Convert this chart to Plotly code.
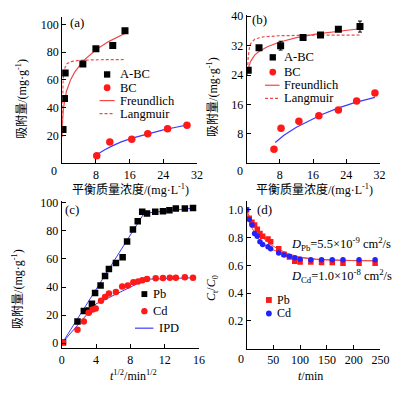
import plotly.graph_objects as go

W, H = 405, 395
SERIF = "'Liberation Serif', 'Noto Sans CJK SC', serif"

# ---------------- data ----------------
# (a) Pb isotherm
a_abc_x = [0.2, 0.55, 0.7, 4.9, 8.0, 12.0, 14.9]
a_abc_y = [24.2, 46.6, 65.0, 71.4, 82.4, 84.8, 95.4]
a_bc_x = [8.2, 11.3, 16.5, 20.3, 25.0, 29.6]
a_bc_y = [5.4, 15.3, 17.2, 21.2, 24.7, 27.3]
a_fr_x = [0.01, 0.03, 0.1, 0.3, 0.6, 1, 2, 3, 5, 8, 11, 15.2]
a_fr_y = [18.8, 23.9, 31.2, 39.7, 46.2, 51.7, 60.2, 65.8, 73.7, 81.7, 87.6, 94.0]
a_la_x = [0.02, 0.05, 0.1, 0.2, 0.4, 0.7, 1, 2, 4, 8, 14.7]
a_la_y = [21.4, 37.5, 50.0, 60.0, 66.7, 70.0, 71.4, 73.2, 74.1, 74.5, 74.7]
a_bcfit_x = [7.9, 10, 12, 14, 16.6, 20, 24, 27, 29.7]
a_bcfit_y = [5.5, 9.5, 12.6, 15.3, 18.0, 21.0, 24.0, 25.9, 27.6]

# (b) Cd isotherm
b_abc_x = [0.4, 3.0, 8.2, 13.6, 17.8, 22.1, 27.3]
b_abc_y = [25.3, 31.4, 32.0, 34.2, 34.9, 36.5, 37.2]
b_abc_err = [0.5, 0.6, 1.2, 0.6, 0.5, 0.6, 1.5]
b_bc_x = [6.6, 8.3, 12.6, 17.4, 22.1, 26.5, 30.9]
b_bc_y = [3.8, 9.5, 11.4, 12.9, 14.5, 16.9, 19.1]
b_fr_x = [0.2, 0.4, 1, 2, 3, 5, 8, 12, 17, 22, 27.3]
b_fr_y = [24.4, 25.8, 27.8, 29.5, 30.4, 31.7, 33.0, 34.2, 35.2, 35.9, 36.6]
b_la_x = [0.2, 0.4, 0.7, 1, 2, 4, 8, 15, 27.3]
b_la_y = [24.0, 29.0, 31.5, 32.6, 33.8, 34.4, 34.7, 34.85, 34.9]
b_bcfit_x = [6.9, 9, 12, 15, 18, 22, 26, 30.9]
b_bcfit_y = [5.6, 7.6, 9.8, 11.6, 13.2, 15.0, 16.5, 17.9]

# (c) kinetics vs t^1/2
c_pb_x = [0.15, 1.84, 2.58, 3.14, 3.52, 3.89, 4.53, 5.05, 5.5, 6.32, 7.1, 7.62,
          8.3, 8.86, 9.38, 9.94, 10.9, 11.8, 12.55, 13.3, 14.35, 15.3]
c_pb_y = [0.7, 15.4, 22.9, 23.3, 28.2, 35.7, 41.1, 47.9, 52.8, 57.2, 61.2, 72.4,
          81.0, 86.9, 93.6, 92.5, 93.6, 94.1, 94.8, 96.0, 96.0, 96.4]
c_cd_x = [0.15, 1.84, 2.58, 3.14, 3.6, 3.96, 4.58, 5.05, 5.5, 6.32, 7.05, 7.7,
          8.35, 8.9, 9.4, 9.94, 10.95, 11.8, 12.6, 13.3, 14.35, 15.3]
c_cd_y = [0.7, 9.5, 15.4, 21.7, 24.0, 24.7, 30.3, 32.9, 35.5, 36.4, 40.4, 41.1,
          43.4, 43.9, 44.8, 45.8, 46.2, 46.4, 46.7, 46.7, 47.0, 46.7]
c_ipd_pb_x = [0.1, 9.6, 15.4]
c_ipd_pb_y = [0.5, 92.6, 96.3]
c_ipd_cd_x = [0.1, 4.0, 9.9, 15.4]
c_ipd_cd_y = [0.5, 28.0, 45.6, 46.6]

# (d) C/C0 vs t
d_t = [0, 5, 10, 15, 20, 25, 30, 40, 45, 60, 70, 80, 90, 100, 120, 140, 160, 180, 210, 240]
d_pb = [1.0, 0.94, 0.91, 0.89, 0.86, 0.83, 0.81, 0.79, 0.77, 0.72, 0.68, 0.66, 0.63,
        0.625, 0.625, 0.62, 0.62, 0.615, 0.615, 0.615]
d_cd = [1.0, 0.93, 0.89, 0.83, 0.81, 0.77, 0.75, 0.735, 0.72, 0.69, 0.675, 0.665, 0.655,
        0.645, 0.64, 0.64, 0.64, 0.64, 0.64, 0.64]
d_fit_t = [0, 5, 10, 20, 30, 45, 60, 80, 100, 130, 160, 200, 240]
d_fit_pb = [1.0, 0.95, 0.91, 0.85, 0.80, 0.75, 0.715, 0.68, 0.66, 0.645, 0.638, 0.634, 0.633]
d_fit_cd = [1.0, 0.92, 0.87, 0.80, 0.76, 0.72, 0.695, 0.67, 0.655, 0.643, 0.637, 0.634, 0.633]

# tick labels
a_xt = [8, 16, 24, 32]; a_yt = [20, 40, 60, 80, 100]
b_xt = [8, 16, 24, 32]; b_yt = [8, 16, 24, 32, 40]
c_xt = [0, 4, 8, 12, 16]; c_yt = [0, 20, 40, 60, 80, 100]
d_xt = [50, 100, 150, 200, 250]; d_yt = [0.2, 0.4, 0.6, 0.8, 1.0]
d_ytext = ["0.2", "0.4", "0.6", "0.8", "1.0"]

RED = "#ff1a1a"
BLUE = "#3b3bff"
FITRED = "#f04848"

def px(x):
    return x / W

def py(y):
    return 1 - y / H

fig = go.Figure()

def sc(x, y, ax, **kw):
    fig.add_trace(go.Scatter(x=x, y=y, xaxis="x" + ax, yaxis="y" + ax,
                             showlegend=False, hoverinfo="skip", **kw))

# (a)
sc(a_fr_x, a_fr_y, "", mode="lines", line=dict(color=FITRED, width=1.2))
sc(a_la_x, a_la_y, "", mode="lines", line=dict(color=FITRED, width=1.2, dash="3px,2px"))
sc(a_bcfit_x, a_bcfit_y, "", mode="lines", line=dict(color=BLUE, width=1.2))
sc(a_abc_x, a_abc_y, "", mode="markers", marker=dict(symbol="square", size=7, color="black"))
sc(a_bc_x, a_bc_y, "", mode="markers", marker=dict(symbol="circle", size=7.5, color=RED))
# (b)
sc(b_fr_x, b_fr_y, "2", mode="lines", line=dict(color=FITRED, width=1.2))
sc(b_la_x, b_la_y, "2", mode="lines", line=dict(color=FITRED, width=1.2, dash="3px,2px"))
sc(b_bcfit_x, b_bcfit_y, "2", mode="lines", line=dict(color=BLUE, width=1.2))
sc(b_abc_x, b_abc_y, "2", mode="markers", marker=dict(symbol="square", size=7, color="black"),
   error_y=dict(type="data", array=b_abc_err, color="black", thickness=1, width=2))
sc(b_bc_x, b_bc_y, "2", mode="markers", marker=dict(symbol="circle", size=7.5, color=RED))
# (c)
sc(c_ipd_pb_x, c_ipd_pb_y, "3", mode="lines", line=dict(color=BLUE, width=1))
sc(c_ipd_cd_x, c_ipd_cd_y, "3", mode="lines", line=dict(color=BLUE, width=1))
sc(c_pb_x, c_pb_y, "3", mode="markers", marker=dict(symbol="square", size=6.5, color="black"))
sc(c_cd_x, c_cd_y, "3", mode="markers", marker=dict(symbol="circle", size=6.5, color=RED))
# (d)
sc(d_fit_t, d_fit_pb, "4", mode="lines", line=dict(color=FITRED, width=1))
sc(d_fit_t, d_fit_cd, "4", mode="lines", line=dict(color=FITRED, width=1))
sc(d_t, d_pb, "4", mode="markers", marker=dict(symbol="square", size=5.5, color=RED))
sc(d_t, d_cd, "4", mode="markers", marker=dict(symbol="circle", size=5.5, color="#2222ff"))

def axis(dom, rng, tv, tt=None, anchor=None):
    d = dict(domain=dom, range=rng, tickvals=tv, showline=True, linecolor="black",
             linewidth=1, ticks="inside", ticklen=4, tickcolor="black", showgrid=False,
             zeroline=False, tickfont=dict(family=SERIF, size=12, color="black"),
             anchor=anchor, fixedrange=True)
    if tt is not None:
        d["ticktext"] = tt
    return d

fig.update_layout(
    width=W, height=H, margin=dict(l=0, r=0, t=0, b=0, pad=0),
    paper_bgcolor="white", plot_bgcolor="white", showlegend=False,
    font=dict(family=SERIF, size=12, color="black"),
    xaxis=axis([px(61), px(200)], [0, 32], a_xt, anchor="y"),
    yaxis=axis([py(161), py(12.7)], [0, 105], a_yt, anchor="x"),
    xaxis2=axis([px(251), px(388)], [0, 32], b_xt, anchor="y2"),
    yaxis2=axis([py(161), py(10)], [0, 40.4], b_yt, anchor="x2"),
    xaxis3=axis([px(60.5), px(202)], [0, 16], c_xt, anchor="y3"),
    yaxis3=axis([py(349.3), py(200)], [-3.5, 101], c_yt, anchor="x3"),
    xaxis4=axis([px(251), px(389)], [0, 250], d_xt, anchor="y4"),
    yaxis4=axis([py(350), py(200)], [0, 1.06], d_yt, d_ytext, anchor="x4"),
)

ann = []
def text(x, y, s, size=12, xanchor="center", angle=0):
    ann.append(dict(x=px(x), y=py(y), xref="paper", yref="paper", text=s, showarrow=False,
                    xanchor=xanchor, yanchor="middle", textangle=angle, borderpad=0,
                    font=dict(family=SERIF, size=size, color="black")))

ylab = "吸附量/(mg·g<sup>-1</sup>)"
xlab = "平衡质量浓度/(mg·L<sup>-1</sup>)"
# corner zeros
text(52.3, 169.3, "0"); text(244.3, 169.3, "0"); text(245, 360, "0")
# axis titles
text(131, 188, xlab, 12); text(321, 188, xlab, 12)
text(19, 95, ylab, 12, angle=-90); text(216, 94, ylab, 12, angle=-90)
text(15.5, 289, ylab, 12, angle=-90)
text(134, 377.5, "<i>t</i><sup>1/2</sup>/min<sup>1/2</sup>", 12)
text(316.7, 377.5, "<i>t</i>/min", 12)
text(215.5, 288, "<i>C</i><sub>t</sub>/<i>C</i><sub>0</sub>", 12, angle=-90)
# panel labels
text(76.5, 18, "(a)", 13); text(264, 15, "(b)", 13)
text(71.5, 207.7, "(c)", 13); text(269, 208.3, "(d)", 13)
# D annotations
text(296, 243, "<i>D</i><sub>Pb</sub>=5.5×10<sup>-9</sup> cm<sup>2</sup>/s", 12.5, xanchor="left")
text(296, 276, "<i>D</i><sub>Cd</sub>=1.0×10<sup>-8</sup> cm<sup>2</sup>/s", 12.5, xanchor="left")

# legends (keys as shapes, labels as text)
shapes = []
def sq(x, y, s, color):
    shapes.append(dict(type="rect", xref="paper", yref="paper", x0=px(x - s / 2), x1=px(x + s / 2),
                       y0=py(y + s / 2), y1=py(y - s / 2), fillcolor=color, line=dict(width=0)))
def circ(x, y, s, color):
    shapes.append(dict(type="circle", xref="paper", yref="paper", x0=px(x - s / 2), x1=px(x + s / 2),
                       y0=py(y + s / 2), y1=py(y - s / 2), fillcolor=color, line=dict(width=0)))
def seg(x0, x1, y, color, dash="solid"):
    shapes.append(dict(type="line", xref="paper", yref="paper", x0=px(x0), x1=px(x1),
                       y0=py(y), y1=py(y), line=dict(color=color, width=1.2, dash=dash)))

LF = 12.5
sq(107.3, 70.7, 6.5, "black"); text(120, 70.7, "A-BC", LF, "left")
circ(107.3, 84.3, 7, RED); text(120, 84.3, "BC", LF, "left")
seg(99.5, 115, 97.3, FITRED); text(120, 97.3, "Freundlich", LF, "left")
seg(99.5, 115, 110.5, FITRED, "3px,2px"); text(120, 110.5, "Langmuir", LF, "left")

sq(278, 53.3, 6.5, "black"); text(288.3, 53.3, "A-BC", LF, "left")
circ(278, 68.3, 7, RED); text(288.3, 68.3, "BC", LF, "left")
seg(270, 285, 81.7, FITRED); text(288.3, 81.7, "Freundlich", LF, "left")
seg(270, 285, 95, FITRED, "3px,2px"); text(288.3, 95, "Langmuir", LF, "left")

sq(145.7, 294.3, 6, "black"); text(154, 294.3, "Pb", LF, "left")
circ(145.7, 311.7, 6.5, RED); text(154, 311.7, "Cd", LF, "left")
seg(136, 155, 329, BLUE); text(159.3, 329, "IPD", LF, "left")

sq(274, 300.3, 6, RED); text(281.7, 300.3, "Pb", 12, "left")
circ(274, 314, 6, "#2222ff"); text(281.7, 314, "Cd", 12, "left")

fig.update_layout(annotations=ann, shapes=shapes)
fig.write_html("out.html", config={"displayModeBar": False},
               post_script="document.body.style.margin='0';document.body.style.padding='0';")
